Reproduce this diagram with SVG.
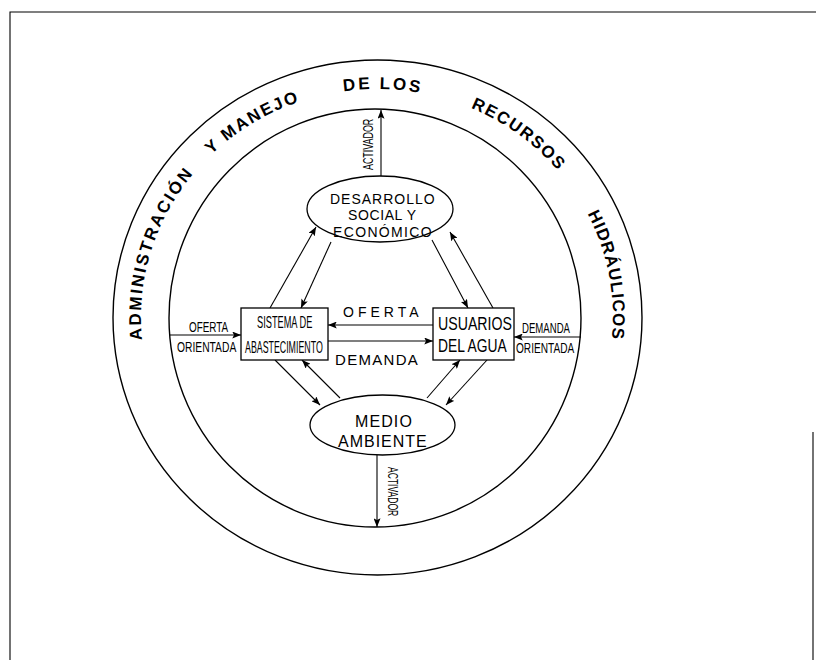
<svg xmlns="http://www.w3.org/2000/svg" width="816" height="660" viewBox="0 0 816 660">
<style>
  .ln{stroke:#000;stroke-width:1.1;fill:none}
  .ring{stroke:#000;stroke-width:1.4;fill:none}
  .nd{stroke:#000;stroke-width:1.3;fill:#fff}
  .t{font-family:"Liberation Sans",Arial,sans-serif;fill:#000}
  .arc{font-family:"Liberation Sans",Arial,sans-serif;font-weight:bold;font-size:17px;fill:#000}
</style>
<defs>
  <marker id="ah" viewBox="0 0 10 8" refX="10" refY="4" markerWidth="9" markerHeight="7" markerUnits="userSpaceOnUse" orient="auto">
    <path d="M0,0 L10,4 L0,8 L2,4 z" fill="#000"/>
  </marker>
  <path id="ringPath" d="M 144.59 356.59 A 236 228 0 1 1 609.41 356.59"/>
</defs>
<rect width="816" height="660" fill="#fff"/>

<g id="frame">
  <path class="ln" d="M10 660 V12 H816" stroke-width="1.6"/>
  <path class="ln" d="M813 432 V660" stroke-width="1.4"/>
</g>

<g id="rings">
  <ellipse class="ring" cx="377.5" cy="317.5" rx="264.5" ry="257.5"/>
  <ellipse class="ring" cx="375" cy="318" rx="206" ry="209"/>
  <text class="arc" letter-spacing="2.2"><textPath href="#ringPath" startOffset="107" text-anchor="middle">ADMINISTRACIÓN</textPath></text>
  <text class="arc" letter-spacing="2"><textPath href="#ringPath" startOffset="274" text-anchor="middle">Y MANEJO</textPath></text>
  <text class="arc" letter-spacing="2.6"><textPath href="#ringPath" startOffset="410" text-anchor="middle">DE LOS</textPath></text>
  <text class="arc" letter-spacing="1.6"><textPath href="#ringPath" startOffset="555" text-anchor="middle">RECURSOS</textPath></text>
  <text class="arc" letter-spacing="1.1"><textPath href="#ringPath" startOffset="726" text-anchor="middle">HIDRÁULICOS</textPath></text>
</g>

<g id="connectors">
  <line class="ln" x1="381" y1="176" x2="381" y2="110" marker-end="url(#ah)"/>
  <line class="ln" x1="377" y1="455" x2="377" y2="527" marker-end="url(#ah)"/>
  <line class="ln" x1="433" y1="325" x2="328" y2="325" marker-end="url(#ah)"/>
  <line class="ln" x1="328" y1="341" x2="433" y2="341" marker-end="url(#ah)"/>
  <line class="ln" x1="170" y1="335" x2="241" y2="335" marker-end="url(#ah)"/>
  <line class="ln" x1="581" y1="337" x2="514" y2="337" marker-end="url(#ah)"/>
  <line class="ln" x1="270" y1="308" x2="316" y2="227" marker-end="url(#ah)"/>
  <line class="ln" x1="331" y1="242" x2="301" y2="308" marker-end="url(#ah)"/>
  <line class="ln" x1="432" y1="240" x2="468" y2="308" marker-end="url(#ah)"/>
  <line class="ln" x1="493" y1="308" x2="450" y2="232" marker-end="url(#ah)"/>
  <line class="ln" x1="275" y1="360" x2="320" y2="405" marker-end="url(#ah)"/>
  <line class="ln" x1="340" y1="398" x2="302" y2="360" marker-end="url(#ah)"/>
  <line class="ln" x1="427" y1="398" x2="460" y2="360" marker-end="url(#ah)"/>
  <line class="ln" x1="487" y1="360" x2="446" y2="405" marker-end="url(#ah)"/>
</g>

<g id="connector-labels">
  <text class="t" font-size="14" transform="translate(373,170) rotate(-90) scale(0.637,1)">ACTIVADOR</text>
  <text class="t" font-size="14" transform="translate(388,467) rotate(90) scale(0.612,1)">ACTIVADOR</text>
  <text class="t" font-size="14" x="343" y="317" letter-spacing="4">OFERTA</text>
  <text class="t" font-size="15" x="335" y="365" letter-spacing="1.3">DEMANDA</text>
  <text class="t" font-size="15" transform="translate(189,332) scale(0.66,1)">OFERTA</text>
  <text class="t" font-size="15" transform="translate(177,352) scale(0.686,1)">ORIENTADA</text>
  <text class="t" font-size="14" transform="translate(522,333) scale(0.686,1)">DEMANDA</text>
  <text class="t" font-size="14" transform="translate(516,353) scale(0.722,1)">ORIENTADA</text>
</g>

<g id="node-desarrollo">
  <ellipse class="nd" cx="380" cy="209" rx="73" ry="33"/>
  <text class="t" font-size="14" x="330" y="204" letter-spacing="1">DESARROLLO</text>
  <text class="t" font-size="14" x="348" y="220" letter-spacing="0.6">SOCIAL Y</text>
  <text class="t" font-size="14" x="333" y="236.5" letter-spacing="1.35">ECONÓMICO</text>
</g>

<g id="node-sistema">
  <rect class="nd" x="241" y="308" width="87" height="52"/>
  <text class="t" font-size="16" transform="translate(257,328) scale(0.578,1)">SISTEMA DE</text>
  <text class="t" font-size="16" transform="translate(245,353) scale(0.552,1)">ABASTECIMIENTO</text>
</g>

<g id="node-usuarios">
  <rect class="nd" x="433" y="308" width="81" height="52"/>
  <text class="t" font-size="18" transform="translate(438,330) scale(0.787,1)">USUARIOS</text>
  <text class="t" font-size="18" transform="translate(438,352) scale(0.769,1)">DEL AGUA</text>
</g>

<g id="node-medio">
  <ellipse class="nd" cx="382.5" cy="425" rx="72.5" ry="30"/>
  <text class="t" font-size="16" x="355" y="427" letter-spacing="1.1">MEDIO</text>
  <text class="t" font-size="16" x="338" y="447" letter-spacing="1">AMBIENTE</text>
</g>
</svg>
